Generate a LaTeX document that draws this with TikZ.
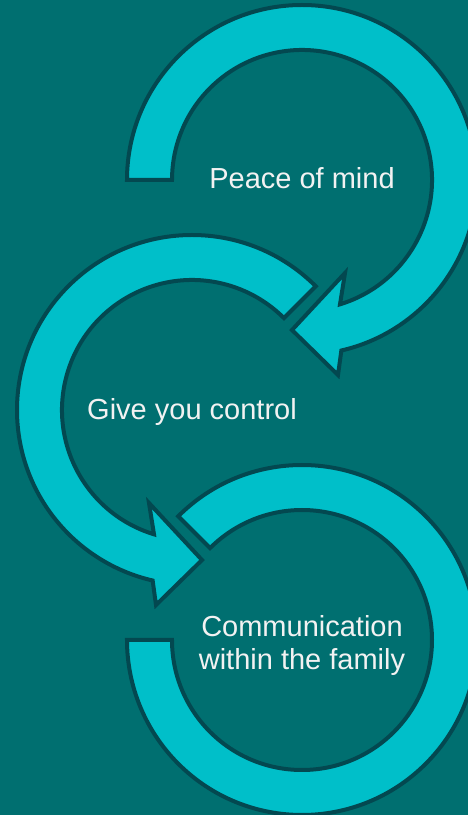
\documentclass[tikz,border=0pt]{standalone}
\usepackage{fontspec}
\setmainfont{Liberation Sans}
\definecolor{bgteal}{RGB}{0,111,112}
\definecolor{ringfill}{RGB}{0,191,201}
\definecolor{ringline}{RGB}{3,72,80}
\definecolor{textwhite}{RGB}{242,242,242}
\begin{document}
\begin{tikzpicture}[
  x=1pt, y=1pt,
  ring/.style={fill=ringfill, draw=ringline, line width=4pt, line join=miter},
  steplabel/.style={text=textwhite, align=center,
    font=\fontsize{29}{33}\selectfont}
]
% Background
\fill[bgteal] (0,0) rectangle (468,815);
\useasboundingbox (0,0) rectangle (468,815);

% Circle centres
\coordinate (c1) at (302,635);
\coordinate (c2) at (192,405);
\coordinate (c3) at (302,175);

% Arrow 1, clockwise
\draw[ring] ([shift={(180:175)}]c1) arc[start angle=180, end angle=-77, radius=175]
  -- ([shift={(36,-195)}]c1) -- ([shift={(-10,-150)}]c1) -- ([shift={(43,-93)}]c1)
  -- ([shift={(-73:130)}]c1) arc[start angle=-73, end angle=180, radius=130] -- cycle;

% Arrow 2, counter-clockwise
\draw[ring] ([shift={(45:175)}]c2) arc[start angle=45, end angle=257, radius=175]
  -- ([shift={(-36,-195)}]c2) -- ([shift={(10,-150)}]c2) -- ([shift={(-43,-93)}]c2)
  -- ([shift={(253:130)}]c2) arc[start angle=253, end angle=45, radius=130] -- cycle;

% Arrow 3, no head
\draw[ring] ([shift={(135:175)}]c3) arc[start angle=135, end angle=-180, radius=175]
  -- ([shift={(-180:130)}]c3) arc[start angle=-180, end angle=135, radius=130] -- cycle;

% Labels
\node[steplabel] (peace) at ([yshift=2]c1) {Peace of mind};
\node[steplabel] (control) at ([yshift=-2]c2) {Give you control};
\node[steplabel] (family) at ([yshift=-6]c3) {Communication\\within the family};

\end{tikzpicture}
\end{document}
